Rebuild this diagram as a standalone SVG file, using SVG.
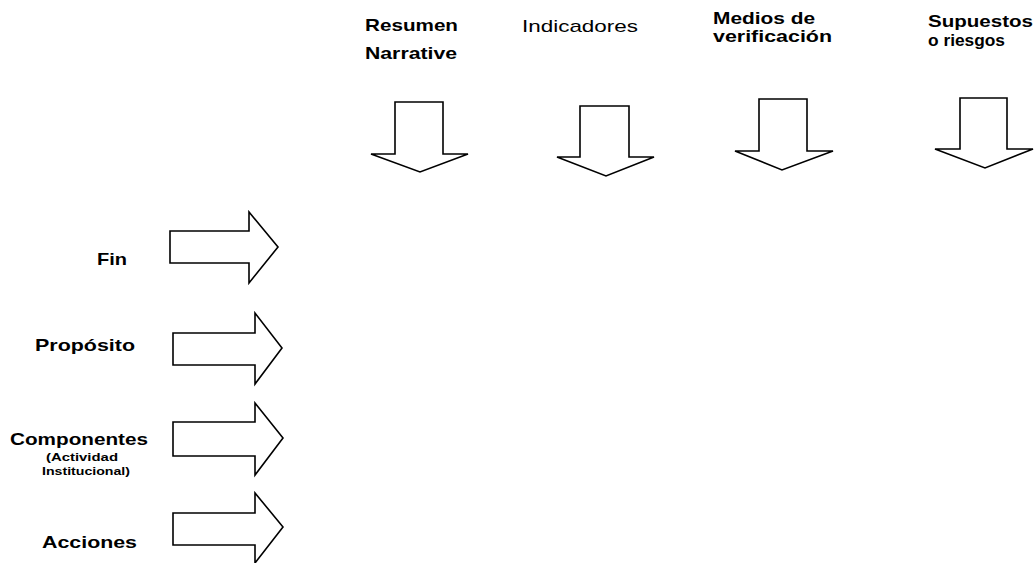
<svg xmlns="http://www.w3.org/2000/svg" width="1036" height="563" viewBox="0 0 1036 563">
<style>
.arr{fill:#fff;stroke:#000;stroke-width:1.6;stroke-linejoin:miter}
.t{font-family:"Liberation Sans",Arial,sans-serif;font-weight:bold;fill:#000}
.h{font-size:17px}
.m{font-size:16px}
.n{font-weight:normal}
.s{font-size:11px}
</style>
<rect width="1036" height="563" fill="#fff"/>
<g id="col-resumen">
<text class="t h" x="365" y="31" textLength="93" lengthAdjust="spacingAndGlyphs">Resumen</text>
<text class="t h" x="365" y="59" textLength="92" lengthAdjust="spacingAndGlyphs">Narrative</text>
<polygon class="arr" points="395,102 443,102 443,154 468,154 420,172 371,154 395,154"/>
</g>
<g id="col-indicadores">
<text class="t h n" x="522" y="32" textLength="116" lengthAdjust="spacingAndGlyphs">Indicadores</text>
<polygon class="arr" points="580,106 629,106 629,157 654,157 606,176 557,157 580,157"/>
</g>
<g id="col-medios">
<text class="t m" x="713" y="24" textLength="102" lengthAdjust="spacingAndGlyphs">Medios de</text>
<text class="t m" x="713" y="42" textLength="119" lengthAdjust="spacingAndGlyphs">verificación</text>
<polygon class="arr" points="759,99 807,99 807,151 833,151 782,170 735,151 759,151"/>
</g>
<g id="col-supuestos">
<text class="t m" x="928" y="27" textLength="105" lengthAdjust="spacingAndGlyphs">Supuestos</text>
<text class="t m" x="928" y="46" textLength="77" lengthAdjust="spacingAndGlyphs">o riesgos</text>
<polygon class="arr" points="960,98 1007,98 1007,149 1033,149 985,168 935,149 960,149"/>
</g>
<g id="row-fin">
<text class="t h" x="97" y="265" textLength="30" lengthAdjust="spacingAndGlyphs">Fin</text>
<polygon class="arr" points="170,231 249,231 249,212 278,247 249,283 249,263 170,263"/>
</g>
<g id="row-proposito">
<text class="t h" x="35" y="351" textLength="100" lengthAdjust="spacingAndGlyphs">Propósito</text>
<polygon class="arr" points="173,333 255,333 255,313 282,348 255,384 255,365 173,365"/>
</g>
<g id="row-componentes">
<text class="t h" x="10" y="445" textLength="138" lengthAdjust="spacingAndGlyphs">Componentes</text>
<text class="t s" x="46" y="461" textLength="72" lengthAdjust="spacingAndGlyphs">(Actividad</text>
<text class="t s" x="42" y="475" textLength="88" lengthAdjust="spacingAndGlyphs">Institucional)</text>
<polygon class="arr" points="173,422 255,422 255,403 283,438 255,475 255,456 173,456"/>
</g>
<g id="row-acciones">
<text class="t h" x="42" y="548" textLength="95" lengthAdjust="spacingAndGlyphs">Acciones</text>
<polygon class="arr" points="173,513 255,513 255,493 283,527 255,563 255,545 173,545"/>
</g>
</svg>
